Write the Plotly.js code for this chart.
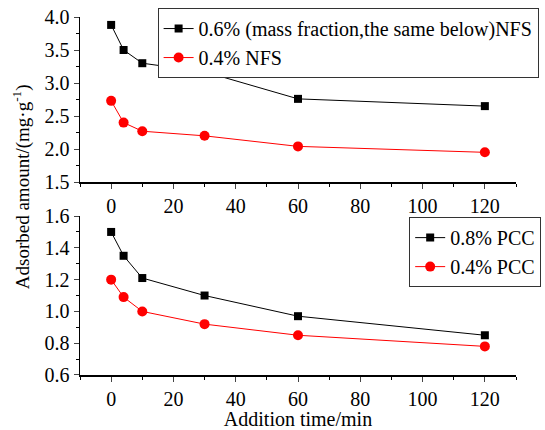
<!DOCTYPE html>
<html>
<head>
<meta charset="utf-8">
<script src="https://cdn.plot.ly/plotly-3.0.1.min.js"></script>
<style>html,body{margin:0;padding:0;background:#fff;}#chart{width:545px;height:430px;}</style>
</head>
<body>
<div id="chart"></div>
<script>
const times = [0, 4, 10, 30, 60, 120];
const nfs06 = [3.88, 3.50, 3.30, 3.17, 2.76, 2.65];
const nfs04 = [2.73, 2.40, 2.27, 2.20, 2.04, 1.95];
const pcc08 = [1.50, 1.35, 1.21, 1.10, 0.97, 0.85];
const pcc04 = [1.20, 1.09, 1.00, 0.92, 0.85, 0.78];
const names = ['0.6% (mass fraction,the same below)NFS', '0.4% NFS', '0.8% PCC', '0.4% PCC'];

const FONT = '"Liberation Serif", "Times New Roman", Times, serif';
function tr(y, name, color, symbol, size, xa, ya, leg) {
  return {x: times, y: y, name: name, type: 'scatter', mode: 'lines+markers',
    xaxis: xa, yaxis: ya, legend: leg,
    line: {color: color, width: 1},
    marker: {color: color, symbol: symbol, size: size}};
}
const data = [
  tr(nfs06, names[0], '#000000', 'square', 8, 'x', 'y', 'legend'),
  tr(nfs04, names[1], '#ff0000', 'circle', 10, 'x', 'y', 'legend'),
  tr(pcc08, names[2], '#000000', 'square', 8, 'x2', 'y2', 'legend2'),
  tr(pcc04, names[3], '#ff0000', 'circle', 10, 'x2', 'y2', 'legend2')
];
const xcommon = {range: [-10, 130], dtick: 20, tick0: 0, ticks: 'outside', ticklen: 5, tickwidth: 1,
  showline: true, linewidth: 1.5, linecolor: '#000', showgrid: false, zeroline: false,
  tickfont: {family: FONT, size: 20, color: '#000'},
  minor: {dtick: 10, ticks: 'outside', ticklen: 3, tickwidth: 1, tickcolor: '#000', showgrid: false}};
const ycommon = {ticks: 'outside', ticklen: 5, tickwidth: 1, showline: true, linewidth: 1.5, linecolor: '#000',
  showgrid: false, zeroline: false, tickfont: {family: FONT, size: 20, color: '#000'}};
const layout = {
  width: 545, height: 430,
  margin: {l: 80, r: 29, t: 17, b: 55, autoexpand: false},
  paper_bgcolor: '#fff', plot_bgcolor: '#fff',
  font: {family: FONT, color: '#000'},
  xaxis: Object.assign({}, xcommon, {anchor: 'y', domain: [0, 1]}),
  yaxis: Object.assign({}, ycommon, {anchor: 'x', domain: [0.539, 1], range: [1.5, 4.0], dtick: 0.5, tick0: 1.5, tickformat: '.1f',
    minor: {dtick: 0.25, ticks: 'outside', ticklen: 3, tickwidth: 1, tickcolor: '#000', showgrid: false}}),
  xaxis2: Object.assign({}, xcommon, {anchor: 'y2', domain: [0, 1],
    title: {text: 'Addition time/min', font: {family: FONT, size: 20, color: '#000'}, standoff: 3}}),
  yaxis2: Object.assign({}, ycommon, {anchor: 'x2', domain: [0, 0.444], range: [0.6, 1.6], dtick: 0.2, tick0: 0.6, tickformat: '.1f',
    minor: {dtick: 0.1, ticks: 'outside', ticklen: 3, tickwidth: 1, tickcolor: '#000', showgrid: false}}),
  legend: {x: 0.178, y: 1.025, xanchor: 'left', yanchor: 'top', bgcolor: '#fff', bordercolor: '#333', borderwidth: 1,
    font: {family: FONT, size: 20, color: '#000'}, tracegroupgap: 0, itemwidth: 30},
  legend2: {x: 0.755, y: 0.441, xanchor: 'left', yanchor: 'top', bgcolor: '#fff', bordercolor: '#333', borderwidth: 1,
    font: {family: FONT, size: 20, color: '#000'}, tracegroupgap: 0, itemwidth: 30},
  annotations: [{text: 'Adsorbed amount/(mg·g<sup>-1</sup>)', xref: 'paper', yref: 'paper', x: -0.135, y: 0.525,
    xanchor: 'center', yanchor: 'middle', textangle: -90, showarrow: false,
    font: {family: FONT, size: 19, color: '#000'}}]
};
Plotly.newPlot('chart', data, layout, {staticPlot: true, displayModeBar: false});
</script>
</body>
</html>
